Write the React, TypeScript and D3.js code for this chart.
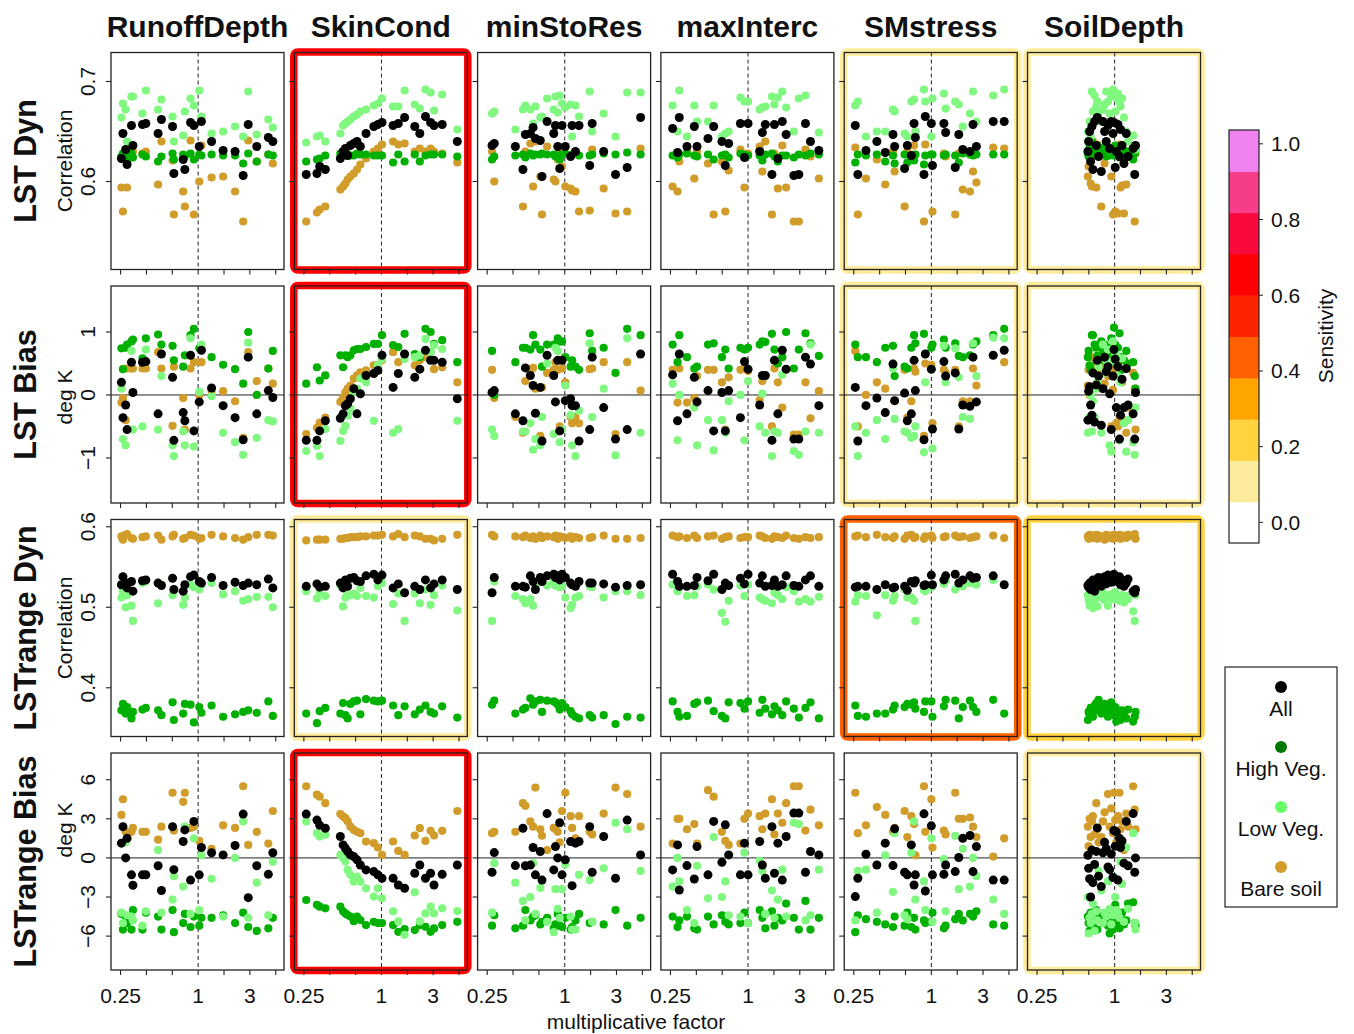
import React from 'react'
import * as d3 from 'd3'

// ---- labels ----
const columnNames = ['RunoffDepth', 'SkinCond', 'minStoRes', 'maxInterc', 'SMstress', 'SoilDepth']
const rowNames = ['LST Dyn', 'LST Bias', 'LSTrange Dyn', 'LSTrange Bias']
const rowUnits = ['Correlation', 'deg K', 'Correlation', 'deg K']
const seriesNames = ['All', 'High Veg.', 'Low Veg.', 'Bare soil']
const yTicks = [[0.6, 0.7], [-1, 0, 1], [0.4, 0.5, 0.6], [-6, -3, 0, 3, 6]]
const xTickLabels = ['0.25', '', '', '1', '', '3', '']
const sensTicks = [0, 0.2, 0.4, 0.6, 0.8, 1.0]

// sensitivity of each panel (rows x columns)
const sensLstDyn = [0, 0.65, 0, 0, 0.1, 0.1]
const sensLstBias = [0, 0.65, 0, 0, 0.1, 0.1]
const sensRangeDyn = [0, 0.1, 0, 0, 0.44, 0.22]
const sensRangeBias = [0, 0.65, 0, 0, 0, 0.1]

// ---- multiplicative factors per parameter ----
const runoffX = [0.255, 0.262, 0.275, 0.282, 0.305, 0.313, 0.371, 0.394, 0.49, 0.52, 0.634, 0.649, 0.766, 0.789, 0.873, 0.927, 1.02, 1.06, 1.27, 1.56, 1.93, 2.23, 2.44, 2.84, 3.49, 3.78]
const skinX = [0.262, 0.317, 0.333, 0.368, 0.481, 0.505, 0.526, 0.548, 0.575, 0.611, 0.647, 0.687, 0.76, 0.873, 0.938, 1.01, 1.23, 1.35, 1.51, 1.81, 1.98, 2.19, 2.4, 2.55, 2.95, 3.86]
const stoX = [0.274, 0.285, 0.415, 0.475, 0.496, 0.542, 0.569, 0.593, 0.647, 0.667, 0.73, 0.822, 0.847, 0.883, 0.914, 0.953, 1.01, 1.11, 1.14, 1.21, 1.29, 1.56, 1.63, 2.0, 2.47, 3.04, 3.86]
const intercX = [0.261, 0.285, 0.294, 0.337, 0.384, 0.403, 0.49, 0.542, 0.628, 0.667, 0.708, 0.873, 0.938, 1.0, 1.23, 1.29, 1.36, 1.53, 1.6, 1.7, 1.84, 1.97, 2.26, 2.47, 2.78, 3.04, 3.53]
const smX = [0.258, 0.27, 0.312, 0.379, 0.44, 0.505, 0.52, 0.621, 0.652, 0.7, 0.735, 0.752, 0.877, 0.898, 1.0, 1.02, 1.25, 1.29, 1.53, 1.63, 1.75, 1.99, 2.1, 2.23, 3.01, 3.66]
const soilX = [0.621, 0.629, 0.64, 0.652, 0.667, 0.679, 0.7, 0.721, 0.734, 0.751, 0.788, 0.812, 0.836, 0.861, 0.888, 0.915, 0.942, 0.971, 0.988, 1.01, 1.03, 1.06, 1.09, 1.11, 1.14, 1.18, 1.23, 1.27, 1.39, 1.43, 1.45]

// ---- values: [All, High Veg., Low Veg., Bare soil] ----
const runoffDyn = [
  [0.623, 0.648, 0.632, 0.617, 0.656, 0.636, 0.657, 0.658, 0.648, 0.662, 0.655, 0.608, 0.622, 0.612, 0.659, 0.656, 0.635, 0.66, 0.64, 0.631, 0.63, 0.606, 0.657, 0.635, 0.644, 0.64],
  [0.625, 0.628, 0.627, 0.62, 0.628, 0.624, 0.627, 0.625, 0.62, 0.625, 0.628, 0.622, 0.627, 0.625, 0.628, 0.622, 0.627, 0.626, 0.627, 0.626, 0.626, 0.618, 0.628, 0.62, 0.627, 0.626],
  [0.664, 0.678, 0.672, 0.64, 0.685, 0.685, 0.668, 0.691, 0.672, 0.682, 0.665, 0.64, 0.646, 0.67, 0.683, 0.676, 0.691, 0.665, 0.648, 0.65, 0.655, 0.645, 0.69, 0.647, 0.662, 0.654],
  [0.594, 0.57, 0.632, 0.594, 0.628, 0.63, 0.628, 0.63, 0.597, 0.64, 0.621, 0.567, 0.59, 0.575, 0.641, 0.567, 0.6, 0.636, 0.604, 0.605, 0.59, 0.56, 0.641, 0.62, 0.627, 0.618],
]
const runoffBias = [
  [0.2, -0.36, -0.16, -0.55, 0.52, 0.04, 0.52, 0.53, -0.3, 0.65, 0.28, -0.72, -0.28, -0.41, 0.63, -0.57, -0.11, 0.71, 0.11, -0.17, -0.36, -0.71, 0.6, -0.3, 0.07, -0.04],
  [0.74, 0.41, 0.75, 0.8, 0.85, 0.88, 0.58, 0.9, 0.96, 0.8, 0.78, 0.55, 0.45, 0.63, 0.95, 1.05, 0.74, 0.72, 0.6, 0.48, 0.41, 0.18, 1.0, 0.0, 0.42, 0.7],
  [0.1, -0.7, -0.8, -0.55, 0.7, -0.55, -0.5, 0.72, -0.55, 0.3, -0.8, -0.97, -0.58, -0.8, 0.9, -0.82, 0.05, 0.8, -0.02, -0.6, -0.75, -0.95, 0.83, -0.68, -0.4, -0.42],
  [-0.12, -0.05, -0.4, 0.42, 0.42, 0.42, 0.42, 0.42, 0.68, 0.42, -0.49, 0.45, -0.05, -0.55, 0.42, 0.52, 0.0, 0.52, 0.06, 0.06, -0.1, -0.68, 0.68, 0.22, 0.42, 0.18],
]
const runoffRangeDyn = [
  [0.528, 0.538, 0.53, 0.524, 0.532, 0.52, 0.533, 0.534, 0.53, 0.527, 0.536, 0.522, 0.52, 0.528, 0.538, 0.54, 0.532, 0.53, 0.537, 0.527, 0.531, 0.527, 0.53, 0.528, 0.535, 0.524],
  [0.372, 0.38, 0.368, 0.376, 0.362, 0.37, 0.373, 0.375, 0.372, 0.366, 0.382, 0.36, 0.368, 0.38, 0.379, 0.357, 0.376, 0.369, 0.378, 0.364, 0.367, 0.37, 0.372, 0.369, 0.383, 0.365],
  [0.512, 0.52, 0.5, 0.515, 0.502, 0.483, 0.53, 0.532, 0.505, 0.528, 0.515, 0.52, 0.503, 0.512, 0.528, 0.525, 0.522, 0.528, 0.53, 0.516, 0.52, 0.508, 0.51, 0.513, 0.513, 0.5],
  [0.588, 0.584, 0.59, 0.591, 0.586, 0.585, 0.587, 0.588, 0.589, 0.584, 0.588, 0.59, 0.585, 0.586, 0.59, 0.589, 0.585, 0.586, 0.59, 0.588, 0.586, 0.584, 0.587, 0.59, 0.59, 0.589],
]
const runoffRangeBias = [
  [1.13, 2.4, 0.0, 1.5, -1.3, -2.1, -1.3, -1.3, -0.6, -2.5, 2.4, -0.9, 1.26, 2.15, -1.7, 2.8, -1.3, 0.8, 0.4, 0.23, 0.95, 3.36, -3.05, -0.6, -1.26, 0.4],
  [-4.3, -5.5, -4.5, -5.0, -5.5, -4.0, -5.5, -4.2, -4.5, -5.5, -4.0, -5.7, -5.0, -4.3, -5.3, -4.5, -5.2, -4.6, -4.6, -4.4, -5.0, -4.2, -5.3, -5.6, -5.4, -4.6],
  [-4.2, -5.0, 1.2, -4.4, -4.5, -4.8, -5.2, -4.1, 0.6, -4.2, -3.2, -1.4, -2.2, 2.4, -4.3, 1.5, -4.0, 0.2, -1.6, -4.5, 0.0, 2.8, -4.6, -1.9, -4.4, -0.3],
  [3.3, 4.5, 2.0, 1.5, 2.0, 2.3, 2.0, 2.0, 1.4, 2.4, 5.0, 2.1, 4.3, 5.0, 2.3, 2.4, 1.3, 0.8, 0.7, 2.5, 2.3, 5.5, 1.0, 2.0, 1.1, 3.6],
]

const skinDyn = [
  [0.607, 0.608, 0.615, 0.612, 0.623, 0.63, 0.633, 0.626, 0.636, 0.638, 0.64, 0.635, 0.648, 0.655, 0.657, 0.659, 0.656, 0.658, 0.664, 0.655, 0.648, 0.665, 0.659, 0.656, 0.657, 0.64],
  [0.62, 0.622, 0.623, 0.626, 0.628, 0.627, 0.626, 0.627, 0.626, 0.626, 0.628, 0.627, 0.627, 0.626, 0.626, 0.626, 0.619, 0.627, 0.62, 0.627, 0.62, 0.626, 0.627, 0.627, 0.627, 0.625],
  [0.639, 0.645, 0.646, 0.64, 0.648, 0.656, 0.658, 0.66, 0.662, 0.665, 0.667, 0.67, 0.672, 0.676, 0.678, 0.683, 0.675, 0.675, 0.691, 0.677, 0.673, 0.692, 0.689, 0.671, 0.687, 0.652],
  [0.56, 0.569, 0.572, 0.575, 0.592, 0.595, 0.598, 0.602, 0.605, 0.608, 0.612, 0.617, 0.623, 0.63, 0.633, 0.637, 0.64, 0.637, 0.638, 0.63, 0.633, 0.63, 0.633, 0.63, 0.628, 0.619],
]
const skinBias = [
  [-0.72, -0.72, -0.57, -0.41, -0.37, -0.3, -0.17, -0.14, -0.06, 0.1, -0.3, 0.02, 0.31, 0.34, 0.39, 0.63, 0.12, 0.34, 0.65, 0.28, 0.41, 0.71, 0.55, 0.55, 0.52, -0.06],
  [0.18, 0.44, 0.23, 0.31, 0.63, 0.44, 0.63, 0.6, 0.63, 0.71, 0.73, 0.73, 0.76, 0.81, 0.81, 0.95, 0.79, 0.76, 0.97, 0.65, 0.6, 1.05, 1.0, 0.81, 0.87, 0.52],
  [-0.89, -0.81, -0.97, -0.54, -0.73, -0.57, -0.49, -0.33, -0.22, 0.04, 0.1, 0.26, 0.2, -0.41, 0.47, 0.57, -0.6, -0.54, 0.57, 0.6, 0.63, 0.89, 0.68, 0.79, 0.73, -0.41],
  [-0.62, -0.52, -0.44, -0.36, -0.11, -0.04, 0.04, 0.1, 0.15, 0.26, 0.31, 0.36, 0.39, 0.47, 0.47, 0.55, 0.68, 0.52, 0.65, 0.47, 0.55, 0.6, 0.57, 0.41, 0.44, 0.2],
]
const skinRangeDyn = [
  [0.526, 0.529, 0.525, 0.526, 0.53, 0.524, 0.534, 0.526, 0.536, 0.537, 0.533, 0.532, 0.539, 0.541, 0.534, 0.54, 0.524, 0.529, 0.518, 0.526, 0.522, 0.534, 0.524, 0.529, 0.534, 0.522],
  [0.368, 0.356, 0.371, 0.375, 0.368, 0.381, 0.366, 0.362, 0.38, 0.383, 0.384, 0.367, 0.386, 0.384, 0.383, 0.384, 0.378, 0.366, 0.377, 0.367, 0.373, 0.378, 0.37, 0.368, 0.377, 0.363],
  [0.52, 0.511, 0.519, 0.514, 0.527, 0.501, 0.512, 0.515, 0.515, 0.517, 0.514, 0.524, 0.514, 0.512, 0.526, 0.53, 0.504, 0.517, 0.483, 0.517, 0.505, 0.522, 0.503, 0.515, 0.527, 0.496],
  [0.583, 0.584, 0.584, 0.584, 0.585, 0.585, 0.586, 0.586, 0.587, 0.587, 0.587, 0.588, 0.588, 0.589, 0.589, 0.59, 0.588, 0.591, 0.587, 0.589, 0.588, 0.585, 0.585, 0.583, 0.585, 0.59],
]
const skinRangeBias = [
  [3.36, 2.9, 2.5, 2.28, 1.64, 1.0, 0.74, 0.49, 0.23, 0.1, -0.15, -0.54, -0.92, -1.05, -1.3, -1.56, -1.56, -2.08, -2.33, -1.18, -0.54, -1.56, -1.18, -2.08, -1.26, -0.54],
  [-3.23, -3.6, -3.74, -3.87, -3.74, -4.1, -4.26, -4.38, -4.5, -4.85, -4.5, -4.77, -5.15, -4.9, -5.0, -5.0, -5.15, -5.67, -5.46, -5.54, -5.15, -5.28, -5.67, -5.41, -5.15, -4.9],
  [2.8, 1.9, 1.64, 1.77, 0.23, 0.0, -0.28, -0.92, -1.3, -1.82, -1.43, -1.82, -2.33, -2.97, -2.33, -3.1, -4.1, -4.87, -5.9, -2.64, -4.87, -4.26, -3.74, -4.26, -3.87, -4.08],
  [5.5, 4.85, 4.7, 4.2, 3.36, 3.18, 3.05, 2.8, 2.4, 2.15, 2.0, 1.9, 1.26, 1.13, 0.8, 0.23, 1.26, 0.54, 0.23, 1.72, 2.28, 1.3, 2.08, 1.72, 2.08, 3.6],
]

const stoDyn = [
  [0.636, 0.638, 0.635, 0.612, 0.647, 0.648, 0.654, 0.643, 0.641, 0.605, 0.66, 0.648, 0.656, 0.635, 0.613, 0.656, 0.635, 0.625, 0.656, 0.63, 0.656, 0.616, 0.658, 0.63, 0.607, 0.614, 0.664],
  [0.622, 0.625, 0.626, 0.627, 0.624, 0.628, 0.626, 0.627, 0.627, 0.628, 0.627, 0.627, 0.625, 0.626, 0.622, 0.627, 0.628, 0.626, 0.627, 0.628, 0.626, 0.626, 0.627, 0.628, 0.627, 0.629, 0.627],
  [0.668, 0.67, 0.652, 0.672, 0.676, 0.672, 0.658, 0.675, 0.664, 0.665, 0.683, 0.672, 0.685, 0.669, 0.686, 0.678, 0.674, 0.677, 0.645, 0.676, 0.665, 0.69, 0.65, 0.668, 0.645, 0.689, 0.689],
  [0.63, 0.6, 0.635, 0.575, 0.63, 0.638, 0.595, 0.64, 0.605, 0.567, 0.635, 0.602, 0.6, 0.622, 0.63, 0.615, 0.595, 0.593, 0.591, 0.59, 0.57, 0.571, 0.632, 0.593, 0.568, 0.57, 0.633],
]
const stoBias = [
  [0.04, 0.07, -0.3, -0.41, 0.43, 0.31, 0.15, -0.29, 0.12, -0.73, 0.63, 0.31, -0.11, 0.55, -0.57, 0.55, -0.09, -0.06, -0.17, -0.17, -0.73, -0.55, 0.6, -0.2, -0.7, -0.55, 0.65],
  [0.7, 0.0, 0.52, 0.75, 0.75, 0.72, 0.95, 0.8, 0.72, 0.45, 0.8, 0.8, 0.8, 0.9, 0.85, 0.85, 0.6, 0.45, 0.55, 0.45, 0.4, 0.98, 0.7, 0.75, 0.35, 1.05, 0.95],
  [-0.55, -0.65, -0.3, -0.58, -0.58, -0.45, -0.87, -0.7, -0.8, -0.35, 0.5, -0.62, 0.75, 0.7, -0.75, -0.55, 0.15, -0.32, -0.8, -0.97, -0.25, 0.82, -0.35, 0.1, -0.96, 0.9, -0.6],
  [0.4, -0.05, -0.35, -0.6, 0.22, 0.41, 0.43, 0.1, -0.65, 0.12, 0.35, 0.4, 0.52, 0.4, -0.5, 0.42, 0.2, -0.35, -0.45, -0.35, -0.45, 0.41, 0.42, 0.52, -0.62, 0.52, 0.07],
]
const stoRangeDyn = [
  [0.518, 0.537, 0.526, 0.526, 0.525, 0.539, 0.532, 0.522, 0.537, 0.532, 0.539, 0.541, 0.537, 0.539, 0.534, 0.541, 0.537, 0.53, 0.528, 0.526, 0.532, 0.53, 0.53, 0.529, 0.525, 0.527, 0.528],
  [0.379, 0.384, 0.368, 0.373, 0.375, 0.387, 0.379, 0.383, 0.385, 0.37, 0.384, 0.383, 0.382, 0.379, 0.373, 0.381, 0.376, 0.371, 0.367, 0.364, 0.362, 0.366, 0.363, 0.366, 0.355, 0.364, 0.363],
  [0.483, 0.532, 0.514, 0.51, 0.505, 0.51, 0.502, 0.528, 0.532, 0.532, 0.527, 0.532, 0.527, 0.526, 0.525, 0.526, 0.512, 0.499, 0.503, 0.512, 0.514, 0.526, 0.525, 0.512, 0.52, 0.52, 0.515],
  [0.59, 0.588, 0.588, 0.587, 0.589, 0.586, 0.588, 0.585, 0.589, 0.586, 0.588, 0.587, 0.589, 0.585, 0.588, 0.587, 0.586, 0.588, 0.585, 0.587, 0.586, 0.586, 0.587, 0.589, 0.585, 0.585, 0.586],
]
const stoRangeBias = [
  [-1.1, 0.41, -0.59, 2.28, -0.6, -0.55, 0.8, -1.3, 0.49, -1.7, 3.4, -0.92, 0.87, 0.0, 2.7, -1.3, -0.15, 1.26, -2.13, 1.13, 1.26, 2.4, -1.1, 1.64, -1.56, 2.9, 0.23],
  [-5.2, -4.4, -5.4, -5.2, -4.0, -4.8, -4.5, -4.4, -5.1, -4.9, -4.6, -5.4, -5.1, -4.3, -5.2, -5.3, -4.6, -5.5, -5.3, -4.8, -4.3, -5.0, -4.9, -5.1, -4.0, -5.2, -4.6],
  [-4.2, -0.4, -1.9, -3.3, -4.8, -3.0, -0.4, -4.3, -2.3, -1.7, -4.9, -5.7, -2.4, -3.9, -4.6, -2.4, -0.5, -4.5, -5.5, -5.5, -1.3, -1.7, -4.9, -0.8, 2.7, 2.2, -1.0],
  [1.9, 2.0, 2.0, 4.2, 4.0, 2.8, 2.4, 5.4, 2.2, 1.7, 0.6, 2.3, 2.2, 2.0, 1.2, 3.6, 5.0, 3.2, 2.3, 1.5, 3.2, 2.0, 1.8, 3.4, 5.4, 4.9, 2.4],
]

const intercDyn = [
  [0.653, 0.629, 0.664, 0.635, 0.655, 0.635, 0.643, 0.655, 0.64, 0.616, 0.638, 0.658, 0.624, 0.658, 0.63, 0.649, 0.657, 0.607, 0.657, 0.623, 0.66, 0.647, 0.606, 0.607, 0.658, 0.64, 0.631],
  [0.626, 0.624, 0.627, 0.628, 0.626, 0.625, 0.627, 0.622, 0.626, 0.627, 0.624, 0.628, 0.627, 0.626, 0.626, 0.621, 0.627, 0.628, 0.625, 0.62, 0.626, 0.626, 0.624, 0.627, 0.626, 0.628, 0.627],
  [0.676, 0.65, 0.691, 0.645, 0.676, 0.66, 0.66, 0.676, 0.645, 0.648, 0.65, 0.684, 0.68, 0.68, 0.672, 0.674, 0.675, 0.685, 0.677, 0.684, 0.69, 0.674, 0.65, 0.683, 0.686, 0.64, 0.649],
  [0.595, 0.59, 0.62, 0.632, 0.603, 0.63, 0.618, 0.567, 0.62, 0.57, 0.611, 0.632, 0.594, 0.628, 0.635, 0.61, 0.64, 0.567, 0.628, 0.593, 0.636, 0.594, 0.56, 0.56, 0.632, 0.625, 0.603],
]
const intercBias = [
  [0.32, -0.41, 0.65, -0.3, 0.28, -0.11, 0.07, -0.57, 0.04, -0.57, 0.07, -0.36, 0.53, 0.41, -0.16, 0.31, 0.31, -0.72, 0.55, -0.3, 0.71, 0.41, -0.7, -0.7, 0.6, 0.49, -0.17],
  [0.8, 0.52, 0.95, 0.6, 0.42, 0.45, 0.8, 0.82, 0.6, 0.72, 0.42, 0.75, 0.72, 0.75, 0.8, 0.85, 0.84, 0.97, 0.72, 0.5, 0.6, 1.0, 0.42, 0.72, 0.98, 0.82, 0.62],
  [0.18, -0.72, 0.0, -0.3, -0.2, -0.8, -0.4, -0.88, -0.4, -0.6, -0.1, 0.0, -0.72, 0.22, -0.5, 0.02, -0.6, -0.97, -0.58, -0.6, 0.32, 0.4, -0.89, -0.95, -0.58, 0.8, -0.6],
  [0.4, -0.12, 0.42, -0.12, -0.05, 0.3, 0.4, 0.4, 0.2, -0.55, 0.28, 0.4, 0.43, 0.38, -0.08, 0.22, 0.3, -0.5, 0.42, 0.2, -0.2, 0.4, -0.63, -0.63, 0.2, -0.37, 0.06],
]
const intercRangeDyn = [
  [0.541, 0.532, 0.526, 0.526, 0.527, 0.537, 0.533, 0.541, 0.522, 0.53, 0.527, 0.536, 0.529, 0.541, 0.53, 0.539, 0.526, 0.527, 0.534, 0.526, 0.528, 0.539, 0.527, 0.526, 0.534, 0.539, 0.526],
  [0.383, 0.37, 0.364, 0.365, 0.38, 0.382, 0.384, 0.371, 0.365, 0.362, 0.382, 0.381, 0.374, 0.383, 0.369, 0.385, 0.374, 0.367, 0.377, 0.372, 0.366, 0.383, 0.374, 0.363, 0.375, 0.382, 0.362],
  [0.528, 0.52, 0.525, 0.514, 0.515, 0.526, 0.528, 0.522, 0.493, 0.482, 0.508, 0.527, 0.514, 0.528, 0.512, 0.51, 0.508, 0.505, 0.518, 0.515, 0.51, 0.525, 0.52, 0.507, 0.51, 0.507, 0.513],
  [0.589, 0.587, 0.588, 0.586, 0.589, 0.586, 0.588, 0.589, 0.585, 0.587, 0.588, 0.586, 0.587, 0.587, 0.589, 0.588, 0.586, 0.585, 0.588, 0.587, 0.586, 0.589, 0.586, 0.585, 0.587, 0.586, 0.587],
]
const intercRangeBias = [
  [-0.92, 1.0, -2.46, -0.59, -1.62, 0.87, -1.3, 2.8, -0.33, 2.54, 0.23, -1.3, 1.13, -1.3, 1.26, -0.54, -1.56, 2.4, -1.18, 1.13, -1.7, 1.64, 3.44, 3.44, -1.1, 0.49, 0.23],
  [-4.5, -5.3, -4.8, -4.5, -5.4, -5.5, -4.5, -5.1, -4.4, -4.9, -5.1, -5.0, -4.2, -5.0, -4.0, -4.6, -5.4, -4.1, -5.2, -4.6, -4.8, -3.5, -4.6, -5.5, -3.3, -5.5, -4.6],
  [-2.2, 0.0, -1.8, -4.0, -5.0, -0.6, -3.1, 1.6, -3.0, -1.8, -4.4, -4.5, 0.4, -5.0, -0.2, -1.0, -4.3, -2.5, -4.6, -3.2, -0.9, -4.5, 2.7, 2.6, -4.8, -4.4, -0.9],
  [1.1, 3.0, 3.0, 2.2, 2.6, 1.1, 5.2, 4.7, 2.0, 1.3, 1.0, 1.1, 3.0, 3.4, 3.2, 2.2, 3.4, 4.5, 1.8, 3.4, 2.7, 4.2, 5.5, 5.5, 2.1, 3.7, 2.5],
]

const smDyn = [
  [0.656, 0.607, 0.631, 0.64, 0.629, 0.647, 0.635, 0.613, 0.636, 0.626, 0.658, 0.644, 0.607, 0.665, 0.658, 0.616, 0.658, 0.649, 0.614, 0.647, 0.632, 0.63, 0.657, 0.635, 0.66, 0.66],
  [0.619, 0.627, 0.626, 0.627, 0.62, 0.626, 0.618, 0.627, 0.619, 0.624, 0.621, 0.627, 0.617, 0.626, 0.627, 0.627, 0.626, 0.627, 0.626, 0.619, 0.628, 0.627, 0.626, 0.627, 0.627, 0.627],
  [0.676, 0.68, 0.645, 0.65, 0.65, 0.672, 0.67, 0.648, 0.645, 0.68, 0.682, 0.65, 0.692, 0.68, 0.645, 0.683, 0.688, 0.673, 0.68, 0.677, 0.655, 0.668, 0.69, 0.66, 0.686, 0.692],
  [0.634, 0.567, 0.603, 0.622, 0.597, 0.63, 0.61, 0.575, 0.63, 0.624, 0.636, 0.627, 0.56, 0.637, 0.627, 0.57, 0.628, 0.625, 0.567, 0.628, 0.592, 0.59, 0.61, 0.599, 0.634, 0.633],
]
const smBias = [
  [0.12, -0.73, -0.17, -0.05, -0.28, 0.49, -0.09, 0.03, -0.41, -0.3, 0.55, 0.07, -0.71, 0.65, 0.41, -0.54, 0.53, 0.3, 0.35, -0.54, -0.16, -0.18, 0.6, -0.11, 0.63, 0.71],
  [0.8, 0.6, 0.6, 0.52, 0.75, 0.78, 0.3, 0.45, 0.42, 0.75, 0.95, 0.82, 0.97, 0.65, 0.75, 0.8, 0.88, 0.75, 0.82, 0.62, 0.6, 0.63, 0.8, 0.85, 0.95, 1.05],
  [-0.5, -0.97, -0.6, -0.4, -0.7, 0.42, -0.38, -0.58, -0.6, -0.68, -0.65, -0.5, -0.91, 0.2, 0.4, -0.85, 0.78, 0.2, 0.74, 0.28, -0.35, -0.38, 0.82, 0.3, 0.91, 0.9],
  [0.7, -0.5, 0.0, 0.2, 0.1, 0.5, -0.1, 0.4, -0.36, -0.1, 0.42, 0.37, -0.65, 0.5, 0.48, -0.45, 0.4, 0.35, 0.4, -0.5, -0.1, -0.1, 0.42, 0.15, 0.63, 0.52],
]
const smRangeDyn = [
  [0.525, 0.526, 0.526, 0.522, 0.528, 0.524, 0.525, 0.526, 0.521, 0.532, 0.53, 0.533, 0.527, 0.528, 0.54, 0.528, 0.534, 0.539, 0.541, 0.53, 0.534, 0.539, 0.536, 0.537, 0.539, 0.528],
  [0.378, 0.365, 0.364, 0.368, 0.368, 0.373, 0.378, 0.376, 0.38, 0.379, 0.382, 0.374, 0.37, 0.383, 0.383, 0.364, 0.377, 0.385, 0.384, 0.362, 0.376, 0.384, 0.376, 0.37, 0.385, 0.368],
  [0.507, 0.515, 0.514, 0.49, 0.515, 0.508, 0.514, 0.522, 0.512, 0.512, 0.508, 0.483, 0.521, 0.52, 0.525, 0.526, 0.529, 0.533, 0.522, 0.528, 0.526, 0.53, 0.53, 0.528, 0.534, 0.528],
  [0.588, 0.589, 0.587, 0.59, 0.587, 0.586, 0.588, 0.585, 0.589, 0.59, 0.586, 0.587, 0.585, 0.588, 0.589, 0.586, 0.587, 0.588, 0.589, 0.587, 0.588, 0.586, 0.587, 0.588, 0.589, 0.586],
]
const smRangeBias = [
  [-2.97, -1.56, 0.28, -0.54, 1.13, -0.59, 2.23, -1.1, -1.3, 1.0, -2.08, -1.3, 3.38, -2.54, 2.46, -1.3, -1.26, -0.54, -1.05, 0.03, 1.5, 1.72, -1.05, 0.87, -1.7, -1.7],
  [-5.7, -4.4, -4.7, -4.9, -5.1, -5.3, -4.5, -5.2, -4.2, -5.3, -4.6, -5.5, -4.8, -5.0, -4.9, -4.2, -5.4, -5.2, -4.7, -4.3, -4.8, -4.3, -4.5, -4.1, -5.1, -5.2],
  [-4.8, -1.0, -0.9, -4.2, 0.2, -2.6, 1.9, -4.4, -4.7, 0.4, 2.8, -3.2, -1.8, -4.0, 1.5, -4.9, -0.1, -4.1, 1.7, -2.4, 0.7, -2.2, 0.0, -1.4, -3.2, -4.3],
  [5.0, 1.9, 2.5, 3.9, 3.3, 2.0, 2.3, 3.6, 1.6, 3.2, 2.6, 0.2, 5.5, 2.0, 4.5, 0.8, 2.1, 1.8, 5.0, 3.0, 3.0, 3.1, 2.4, 1.6, 0.1, 1.5],
]

const soilDyn = [
  [0.63, 0.64, 0.65, 0.62, 0.655, 0.612, 0.66, 0.636, 0.664, 0.625, 0.61, 0.66, 0.65, 0.64, 0.656, 0.633, 0.66, 0.648, 0.659, 0.614, 0.63, 0.657, 0.625, 0.652, 0.636, 0.618, 0.648, 0.625, 0.633, 0.607, 0.636],
  [0.628, 0.625, 0.634, 0.63, 0.64, 0.627, 0.63, 0.626, 0.636, 0.628, 0.627, 0.634, 0.63, 0.625, 0.627, 0.626, 0.633, 0.629, 0.626, 0.636, 0.627, 0.63, 0.624, 0.628, 0.626, 0.631, 0.625, 0.63, 0.622, 0.628, 0.632],
  [0.65, 0.64, 0.66, 0.645, 0.69, 0.67, 0.686, 0.675, 0.68, 0.668, 0.66, 0.672, 0.677, 0.69, 0.68, 0.668, 0.685, 0.692, 0.69, 0.67, 0.684, 0.688, 0.68, 0.675, 0.683, 0.664, 0.65, 0.64, 0.646, 0.636, 0.632],
  [0.605, 0.615, 0.64, 0.598, 0.595, 0.64, 0.634, 0.594, 0.637, 0.63, 0.575, 0.626, 0.618, 0.636, 0.63, 0.627, 0.605, 0.567, 0.627, 0.57, 0.634, 0.568, 0.637, 0.594, 0.596, 0.568, 0.597, 0.63, 0.633, 0.56, 0.628],
]
const soilBias = [
  [-0.4, 0.06, 0.13, -0.16, -0.32, 0.35, -0.43, 0.16, 0.55, 0.3, -0.48, 0.1, 0.6, 0.37, 0.45, 0.02, -0.55, 0.3, 0.72, 0.57, -0.2, 0.45, -0.7, -0.32, 0.25, -0.2, 0.42, -0.16, -0.3, -0.7, 0.04],
  [0.6, 0.7, 0.47, 0.4, 0.95, 0.95, 0.8, 0.75, 0.62, 0.5, 0.85, 0.7, 0.8, 0.55, 0.75, 0.6, 0.9, 0.65, 1.07, 0.8, 0.5, 0.75, 0.98, 0.6, 0.4, 0.55, 0.7, 0.5, 0.52, 0.3, 0.1],
  [-0.6, -0.4, -0.35, 0.0, -0.58, -0.1, -0.35, 0.1, 0.2, 0.45, -0.6, 0.8, 0.35, 0.55, 0.72, -0.8, -0.9, 0.85, 0.55, 0.65, 0.65, 0.3, -0.72, 0.2, 0.58, -0.45, -0.9, -0.4, -0.75, -0.95, -0.2],
  [0.15, 0.4, 0.0, 0.6, 0.45, 0.1, 0.35, 0.55, 0.4, 0.62, 0.1, 0.5, 0.18, 0.45, 0.3, 0.6, -0.5, 0.08, 0.4, 0.65, -0.45, -0.5, -0.35, 0.55, 0.2, -0.4, -0.6, -0.2, 0.35, 0.1, -0.55],
]
const soilRangeDyn = [
  [0.527, 0.525, 0.53, 0.522, 0.528, 0.534, 0.52, 0.53, 0.535, 0.537, 0.526, 0.534, 0.538, 0.529, 0.54, 0.536, 0.531, 0.539, 0.541, 0.533, 0.537, 0.532, 0.538, 0.528, 0.534, 0.526, 0.53, 0.535, 0.52, 0.518, 0.522],
  [0.36, 0.37, 0.366, 0.375, 0.372, 0.364, 0.378, 0.381, 0.372, 0.385, 0.368, 0.376, 0.38, 0.372, 0.364, 0.377, 0.382, 0.37, 0.366, 0.376, 0.358, 0.372, 0.364, 0.36, 0.372, 0.366, 0.362, 0.373, 0.358, 0.364, 0.37],
  [0.515, 0.509, 0.502, 0.517, 0.512, 0.499, 0.509, 0.513, 0.501, 0.515, 0.512, 0.518, 0.509, 0.512, 0.502, 0.515, 0.516, 0.51, 0.515, 0.519, 0.512, 0.513, 0.508, 0.514, 0.515, 0.506, 0.514, 0.51, 0.495, 0.483, 0.515],
  [0.588, 0.585, 0.59, 0.587, 0.589, 0.586, 0.588, 0.59, 0.585, 0.589, 0.587, 0.588, 0.584, 0.59, 0.586, 0.588, 0.589, 0.585, 0.59, 0.587, 0.586, 0.588, 0.59, 0.585, 0.587, 0.589, 0.586, 0.59, 0.588, 0.591, 0.585],
]
const soilRangeBias = [
  [0.2, -0.8, -1.6, -3.0, 0.6, -1.9, -0.5, 0.5, 2.3, -1.4, -2.2, 0.4, 1.2, 0.7, -0.7, -0.9, 0.3, -1.5, 2.1, 0.9, 2.0, -1.7, 1.5, 0.8, 1.3, -0.4, 2.8, -0.6, 3.4, -1.1, 0.0],
  [-4.5, -5.0, -5.6, -4.2, -4.8, -5.2, -4.6, -4.0, -5.5, -4.4, -4.7, -5.0, -4.3, -4.6, -5.2, -5.8, -4.3, -5.5, -4.8, -3.6, -5.0, -4.4, -5.4, -4.6, -4.2, -5.1, -4.8, -3.5, -3.4, -5.0, -5.2],
  [-3.0, -5.8, -4.6, -5.0, -4.3, -3.5, -5.6, -4.1, -4.8, -1.0, -2.5, -5.0, -4.2, -4.5, -1.8, -3.9, -5.1, -4.4, -1.5, -3.0, -4.0, -4.2, -4.6, -0.3, -2.0, -4.9, 0.8, -3.9, 1.9, -5.0, -5.5],
  [2.4, 0.9, 3.0, 1.6, 2.8, 3.2, 1.8, 4.2, 2.2, 1.2, 1.6, 2.8, 3.5, 0.6, 4.9, 2.4, 3.8, 1.9, 5.0, 2.9, 1.2, 3.2, 5.0, 2.2, 2.8, 0.6, 3.4, 2.4, 5.5, 3.7, 2.2],
]

// ---- tables built from the arrays above ----
const columnX = [runoffX, skinX, stoX, intercX, smX, soilX]
const panelData = [
  [runoffDyn, skinDyn, stoDyn, intercDyn, smDyn, soilDyn],
  [runoffBias, skinBias, stoBias, intercBias, smBias, soilBias],
  [runoffRangeDyn, skinRangeDyn, stoRangeDyn, intercRangeDyn, smRangeDyn, soilRangeDyn],
  [runoffRangeBias, skinRangeBias, stoRangeBias, intercRangeBias, smRangeBias, soilRangeBias],
]
const sensitivity = [sensLstDyn, sensLstBias, sensRangeDyn, sensRangeBias]

// ---- style / layout ----
const FONT = 'Liberation Sans, Arial, Helvetica, sans-serif'
const pointColors = ['#000000', '#00b000', '#80f880', '#d19c2a']
const legendColors = ['#000000', '#007800', '#66ff66', '#d19c2a']
const drawOrder = [3, 1, 2, 0]
const sensColors = ['#ffffff', '#ffeb9c', '#ffd23f', '#ffa500', '#ff6000', '#ff2400', '#ff0000', '#fa0a3c', '#f53d8a', '#ee82ee']
const sensDomain = [-0.0545, 1.0365]

const panelLeft = 111
const panelPitch = 183.3
const panelW = 173
const rowTop = [52.5, 286, 519.5, 753]
const panelH = 217
const yDomains = [[0.512, 0.729], [-1.715, 1.73], [0.3395, 0.609], [-8.6, 8.05]]
const xDomain = [0.2118, 4.613]
const xTicks = d3.range(-3, 4).map((k) => Math.pow(10, 0.2 * k))
const unitY = [161, 397, 628, 830]
const SMALL = 21

const fmtTick = (v: number) => (v < 0 ? '\u2212' + Math.abs(v) : String(v))

function sensColor(v: number) {
  const binW = (sensDomain[1] - sensDomain[0]) / sensColors.length
  const i = Math.max(0, Math.min(sensColors.length - 1, Math.floor((v - sensDomain[0]) / binW)))
  return sensColors[i]
}

function Panel({ r, c }: { r: number; c: number }) {
  const left = panelLeft + c * panelPitch
  const top = rowTop[r]
  const x = d3.scaleLog().domain(xDomain).range([0, panelW])
  const y = d3.scaleLinear().domain(yDomains[r]).range([panelH, 0])
  const xs = columnX[c]
  const series = panelData[r][c]
  const sens = sensitivity[r][c]
  const frame = sensColor(sens)
  return (
    <g transform={`translate(${left},${top})`}>
      {frame !== '#ffffff' && (
        <rect x={-0.5} y={-0.5} width={panelW + 1} height={panelH + 1} rx={4} fill="none" stroke={frame} strokeWidth={7.5} />
      )}
      <line x1={x(1)} x2={x(1)} y1={0} y2={panelH} stroke="#222" strokeDasharray="4,3" strokeWidth={1} />
      {(r === 1 || r === 3) && <line x1={0} x2={panelW} y1={y(0)} y2={y(0)} stroke="#222" strokeWidth={1} />}
      {drawOrder.map((s) => (
        <g key={s} fill={pointColors[s]}>
          {series[s].map((v, i) => (xs[i] === undefined ? null : <circle key={i} cx={x(xs[i])} cy={y(v)} r={s === 0 ? 4.5 : 4.1} />))}
        </g>
      ))}
      <rect x={0} y={0} width={panelW} height={panelH} fill="none" stroke="#222" strokeWidth={1.3} />
      {xTicks.map((t, i) => (
        <line key={i} x1={x(t)} x2={x(t)} y1={panelH} y2={panelH + 5} stroke="#222" strokeWidth={1.1} />
      ))}
      {yTicks[r].map((t, i) => (
        <line key={i} x1={-5} x2={0} y1={y(t)} y2={y(t)} stroke="#222" strokeWidth={1.1} />
      ))}
      {c === 0 &&
        yTicks[r].map((t, i) => (
          <text key={i} transform={`translate(-16,${y(t)}) rotate(-90)`} textAnchor="middle" fontSize={SMALL} fill="#111">
            {fmtTick(t)}
          </text>
        ))}
      {r === 3 &&
        xTicks.map((t, i) =>
          xTickLabels[i] ? (
            <text key={i} x={x(t)} y={panelH + 33} textAnchor="middle" fontSize={SMALL} fill="#111">
              {xTickLabels[i]}
            </text>
          ) : null
        )}
    </g>
  )
}

export default function App() {
  const cb = d3.scaleLinear().domain(sensDomain).range([543, 130])
  const binW = (sensDomain[1] - sensDomain[0]) / sensColors.length
  return (
    <svg width={1354} height={1034} style={{ position: 'absolute', left: 0, top: 0, background: '#fff' }} fontFamily={FONT}>
      <rect x={0} y={0} width={1354} height={1034} fill="#fff" />
      {columnNames.map((n, c) => (
        <text key={n} x={panelLeft + c * panelPitch + panelW / 2} y={37} textAnchor="middle" fontWeight="bold" fontSize={30} fill="#111">
          {n}
        </text>
      ))}
      {rowNames.map((n, r) => (
        <g key={n}>
          <text transform={`translate(36,${rowTop[r] + panelH / 2}) rotate(-90)`} textAnchor="middle" fontWeight="bold" fontSize={30.5} fill="#111">
            {n}
          </text>
          <text transform={`translate(72,${unitY[r]}) rotate(-90)`} textAnchor="middle" fontSize={SMALL} fill="#111">
            {rowUnits[r]}
          </text>
        </g>
      ))}
      {rowNames.map((_, r) => columnNames.map((__, c) => <Panel key={`${r}-${c}`} r={r} c={c} />))}
      <text x={636} y={1029} textAnchor="middle" fontSize={SMALL} fill="#111">
        multiplicative factor
      </text>

      {/* colour bar */}
      {sensColors.map((col, i) => (
        <rect key={i} x={1229} y={cb(sensDomain[0] + (i + 1) * binW)} width={30} height={cb(sensDomain[0] + i * binW) - cb(sensDomain[0] + (i + 1) * binW) + 0.5} fill={col} />
      ))}
      <rect x={1229} y={130} width={30} height={413} fill="none" stroke="#222" strokeWidth={1.2} />
      {sensTicks.map((t) => (
        <g key={t}>
          <line x1={1259} x2={1263} y1={cb(t)} y2={cb(t)} stroke="#222" />
          <text x={1271} y={cb(t) + 7.5} fontSize={SMALL} fill="#111">
            {t.toFixed(1)}
          </text>
        </g>
      ))}
      <text transform="translate(1333,336) rotate(-90)" textAnchor="middle" fontSize={SMALL} fill="#111">
        Sensitivity
      </text>

      {/* legend */}
      <rect x={1225} y={667} width={112} height={240} fill="#fff" stroke="#222" strokeWidth={1.2} />
      {seriesNames.map((n, i) => (
        <g key={n}>
          <circle cx={1281} cy={687 + i * 60} r={6} fill={legendColors[i]} />
          <text x={1281} y={716 + i * 60} textAnchor="middle" fontSize={SMALL} fill="#111">
            {n}
          </text>
        </g>
      ))}
    </svg>
  )
}
